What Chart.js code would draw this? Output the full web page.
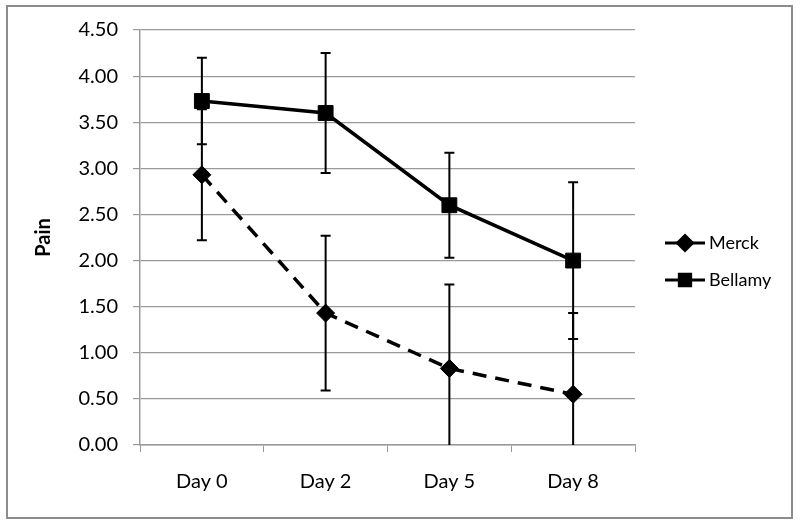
<!DOCTYPE html>
<html>
<head>
<meta charset="utf-8">
<script src="https://cdn.jsdelivr.net/npm/chart.js@4"></script>
<style>
  html, body { margin: 0; padding: 0; background: #fff; }
  #wrap { width: 800px; height: 525px; }
</style>
</head>
<body>
<div id="wrap"><canvas id="painChart" width="800" height="525"></canvas></div>
<script>
var days = ['Day 0', 'Day 2', 'Day 5', 'Day 8'];
var merckPain = [2.93, 1.43, 0.83, 0.55];
var merckErr = [0.71, 0.84, 0.91, 0.88];
var bellamyPain = [3.73, 3.60, 2.60, 2.00];
var bellamyErr = [0.47, 0.65, 0.57, 0.85];

var fontFamily = 'Lato, "Open Sans", sans-serif';
var gridGray = '#9a9a9a';

// error bars, drawn with the chart's own scales
var errorBars = {
    id: 'errorBars',
    afterDatasetsDraw: function(chart) {
        const ctx = chart.ctx;
        const xs = chart.scales.x;
        const ys = chart.scales.y;
        const area = chart.chartArea;
        ctx.save();
        ctx.beginPath();
        ctx.rect(area.left, area.top - 20, area.right - area.left, area.bottom - area.top + 20);
        ctx.clip();
        ctx.strokeStyle = '#000';
        ctx.lineWidth = 2;
        chart.data.datasets.forEach(function(ds) {
            ds.data.forEach(function(v, i) {
                let x = xs.getPixelForValue(i);
                let hi = ys.getPixelForValue(v + ds.errors[i]);
                let lo = ys.getPixelForValue(v - ds.errors[i]);
                ctx.beginPath();
                ctx.moveTo(x, hi); ctx.lineTo(x, lo);
                ctx.moveTo(x - 5, hi); ctx.lineTo(x + 5, hi);
                if (v - ds.errors[i] >= 0) {
                    ctx.moveTo(x - 5, lo); ctx.lineTo(x + 5, lo);
                }
                ctx.stroke();
            });
        });
        ctx.restore();
    }
};

// outer frame + legend like the spreadsheet one
var frameAndLegend = {
    id: 'frameAndLegend',
    beforeDraw: function(chart) {
        const ctx = chart.ctx;
        ctx.save();
        ctx.fillStyle = '#fff';
        ctx.fillRect(0, 0, chart.width, chart.height);
        ctx.strokeStyle = '#8c8c8c';
        ctx.lineWidth = 2;
        ctx.strokeRect(7, 6, 785, 512);
        ctx.restore();
    },
    afterDraw: function(chart) {
        const ctx = chart.ctx;
        const rows = [243, 280];
        ctx.save();
        chart.data.datasets.forEach(function(ds, k) {
            let y = rows[k];
            ctx.strokeStyle = '#000';
            ctx.lineWidth = 3;
            ctx.setLineDash([]);
            ctx.beginPath();
            ctx.moveTo(665, y); ctx.lineTo(705, y);
            ctx.stroke();
            ctx.fillStyle = '#000';
            Chart.helpers.drawPoint(ctx, {
                pointStyle: ds.pointStyle,
                radius: ds.pointStyle === 'rect' ? 8 : 7.5,
                rotation: 0,
                borderWidth: 1
            }, 685, y);
            ctx.fill();
            ctx.font = '18px ' + fontFamily;
            ctx.textBaseline = 'middle';
            ctx.textAlign = 'left';
            ctx.fillText(ds.label, 709, y);
        });
        ctx.restore();
    }
};

new Chart(document.getElementById('painChart'), {
    type: 'line',
    data: {
        labels: days,
        datasets: [
            {
                label: 'Merck',
                data: merckPain,
                errors: merckErr,
                borderColor: '#000',
                backgroundColor: '#000',
                borderWidth: 3.5,
                borderDash: [14, 9],
                pointStyle: 'rectRot',
                pointRadius: 9,
                pointBorderWidth: 1,
                tension: 0
            },
            {
                label: 'Bellamy',
                data: bellamyPain,
                errors: bellamyErr,
                borderColor: '#000',
                backgroundColor: '#000',
                borderWidth: 3.5,
                pointStyle: 'rect',
                pointRadius: 10.5,
                pointBorderWidth: 1,
                tension: 0
            }
        ]
    },
    options: {
        responsive: false,
        animation: false,
        layout: { padding: { left: 28, top: 30, right: 165, bottom: 10 } },
        plugins: {
            legend: { display: false },
            tooltip: { enabled: false }
        },
        scales: {
            x: {
                offset: true,
                grid: {
                    offset: true,
                    drawOnChartArea: false,
                    color: gridGray,
                    tickLength: 7
                },
                border: { color: gridGray, width: 1.5 },
                ticks: { color: '#000', padding: 18, font: { family: fontFamily, size: 20 } },
                afterFit: function(scale) { scale.height = 70; }
            },
            y: {
                min: 0,
                max: 4.5,
                grid: { color: gridGray, tickLength: 7, lineWidth: 1.2 },
                border: { color: gridGray, width: 1.5 },
                ticks: {
                    stepSize: 0.5,
                    color: '#000',
                    padding: 15,
                    font: { family: fontFamily, size: 20 },
                    callback: function(v) { return v.toFixed(2); }
                },
                title: {
                    display: true,
                    text: 'Pain',
                    color: '#000',
                    padding: { top: 4, bottom: 0 },
                    font: { family: fontFamily, size: 20, weight: 'bold' }
                },
                afterFit: function(scale) { scale.width = 112; }
            }
        }
    },
    plugins: [errorBars, frameAndLegend]
});
</script>
</body>
</html>
